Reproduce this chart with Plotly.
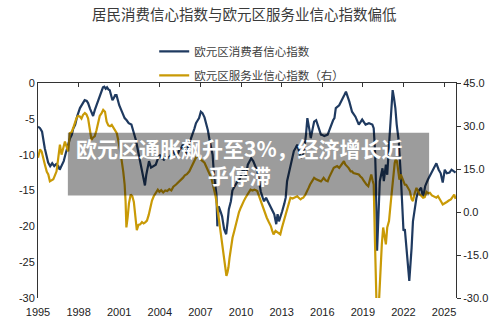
import plotly.graph_objects as go

# ---- data ----
cc_year = [1995.0, 1995.15, 1995.3, 1995.5, 1995.75, 1995.9, 1996.05, 1996.2, 1996.35, 1996.5,
           1996.6, 1996.75, 1996.9, 1997.05, 1997.2, 1997.35, 1997.5, 1997.6, 1997.75, 1997.9,
           1998.1, 1998.3, 1998.45, 1998.6, 1998.7, 1998.85, 1998.95, 1999.07, 1999.2, 1999.3,
           1999.4, 1999.55, 1999.7, 1999.8, 1999.9, 2000.0, 2000.1, 2000.2, 2000.3, 2000.4,
           2000.5, 2000.6, 2000.7, 2000.8, 2000.9, 2001.0, 2001.2, 2001.4, 2001.55, 2001.7,
           2001.9, 2002.1, 2002.25, 2002.4, 2002.55, 2002.7, 2002.82, 2002.9, 2003.0, 2003.1,
           2003.2, 2003.35, 2003.5, 2003.7, 2003.85, 2004.0, 2004.15, 2004.3, 2004.5, 2004.7,
           2004.85, 2004.95, 2005.1, 2005.2, 2005.35, 2005.45, 2005.6, 2005.7, 2005.85, 2005.93,
           2006.05, 2006.2, 2006.3, 2006.4, 2006.55, 2006.67, 2006.8, 2006.9, 2007.03, 2007.15,
           2007.3, 2007.4, 2007.55, 2007.65, 2007.8, 2007.9, 2008.0, 2008.1, 2008.18, 2008.25,
           2008.35, 2008.5, 2008.6, 2008.75, 2008.9, 2009.0, 2009.1, 2009.25, 2009.36, 2009.5,
           2009.6, 2009.75, 2009.85, 2010.0, 2010.1, 2010.25, 2010.35, 2010.5, 2010.6, 2010.75,
           2010.9, 2011.05, 2011.2, 2011.35, 2011.45, 2011.6, 2011.7, 2011.85, 2012.0, 2012.2,
           2012.35, 2012.45, 2012.6, 2012.7, 2012.8, 2012.9, 2013.04, 2013.2, 2013.3, 2013.4,
           2013.55, 2013.65, 2013.8, 2013.9, 2014.05, 2014.15, 2014.3, 2014.4, 2014.55, 2014.65,
           2014.8, 2014.9, 2015.05, 2015.15, 2015.3, 2015.4, 2015.55, 2015.7, 2015.9, 2016.05,
           2016.15, 2016.4, 2016.55, 2016.65, 2016.8, 2016.9, 2017.0, 2017.25, 2017.4, 2017.5,
           2017.65, 2017.75, 2017.9, 2018.0, 2018.2, 2018.45, 2018.7, 2018.95, 2019.2, 2019.45,
           2019.7, 2019.8, 2019.9, 2019.95, 2020.05, 2020.15, 2020.25, 2020.45, 2020.55, 2020.7,
           2020.8, 2020.95, 2021.1, 2021.2, 2021.3, 2021.4, 2021.5, 2021.65, 2021.8, 2021.9,
           2022.0, 2022.1, 2022.25, 2022.35, 2022.43, 2022.6, 2022.7, 2022.85, 2022.96, 2023.1,
           2023.3, 2023.45, 2023.6, 2023.8, 2023.95, 2024.2, 2024.43, 2024.6, 2024.75, 2024.9,
           2025.05, 2025.2, 2025.4, 2025.55, 2025.7, 2025.85]
cc_val = [-6.1, -6.3, -6.8, -9.1, -11.1, -11.6, -11.2, -11.6, -11.3, -11.6,
          -12.1, -11.6, -10.9, -9.8, -8.8, -7.8, -7.2, -6.4, -5.8, -4.6,
          -3.5, -2.9, -2.4, -2.5, -2.8, -3.6, -4.2, -4.6, -3.75, -3.2,
          -2.6, -1.8, -1.0, -0.6, -0.5, -0.8, -0.6, -0.9, -1.0, -1.9,
          -2.4, -2.1, -1.7, -1.7, -2.4, -3.1, -4.0, -4.9, -5.2, -5.6,
          -5.8, -7.0, -8.1, -9.6, -11.0, -12.5, -13.7, -14.3, -12.8, -11.8,
          -10.9, -11.8, -11.6, -11.4, -10.6, -10.0, -10.5, -10.7, -10.3, -10.4,
          -9.9, -9.5, -9.9, -10.2, -9.8, -9.3, -9.0, -8.6, -9.4, -10.0,
          -9.1, -8.4, -7.8, -7.2, -6.4, -5.6, -5.2, -4.9, -4.0, -4.2,
          -4.8, -5.4, -6.6, -7.7, -8.9, -10.0, -12.8, -14.5, -15.5, -20.0,
          -17.2, -18.0, -18.6, -20.4, -21.1, -19.5, -17.6, -16.5, -15.0, -14.5,
          -14.2, -13.7, -13.7, -12.8, -12.3, -12.3, -13.0, -11.4, -11.0, -10.5,
          -10.9, -11.5, -12.3, -13.8, -15.1, -16.0, -16.5, -16.0, -16.6, -17.4,
          -17.8, -18.3, -19.7, -18.3, -19.3, -18.8, -17.9, -16.8, -16.0, -13.7,
          -12.4, -11.4, -10.3, -9.5, -9.0, -8.6, -9.6, -10.5, -10.0, -9.5,
          -7.2, -4.9, -6.5, -7.7, -6.3, -5.4, -5.2, -6.2, -7.2, -7.3,
          -7.4, -7.2, -6.4, -5.8, -5.2, -4.9, -3.5, -3.1, -2.6, -2.1,
          -1.6, -1.2, -2.0, -2.6, -4.0, -4.7, -5.8, -5.1, -5.8, -5.6,
          -5.8, -6.3, -9.5, -12.8, -23.4, -18.0, -13.7, -11.9, -13.7, -11.4,
          -12.8, -8.1, -3.5, -1.0, -2.1, -3.5, -5.8, -8.1, -12.8, -17.4,
          -20.6, -20.4, -23.9, -25.7, -27.6, -23.0, -19.3, -17.4, -16.0, -15.1,
          -14.6, -16.0, -14.4, -13.5, -13.0, -12.1, -11.2, -12.1, -12.6, -13.9,
          -12.1, -12.6, -12.5, -12.1, -12.3, -12.5]

svc_year = [1995.0, 1995.15, 1995.27, 1995.4, 1995.51, 1995.65, 1995.76, 1995.88, 1996.0, 1996.13,
            1996.25, 1996.37, 1996.5, 1996.62, 1996.74, 1996.87, 1996.99, 1997.1, 1997.23, 1997.35,
            1997.48, 1997.6, 1997.72, 1997.84, 1997.96, 1998.09, 1998.21, 1998.33, 1998.46, 1998.58,
            1998.7, 1998.82, 1998.95, 1999.07, 1999.19, 1999.32, 1999.44, 1999.56, 1999.7, 1999.82,
            1999.95, 2000.07, 2000.2, 2000.32, 2000.45, 2000.57, 2000.7, 2000.82, 2000.95, 2001.07,
            2001.18, 2001.3, 2001.4, 2001.47, 2001.53, 2001.62, 2001.72, 2001.85, 2001.97, 2002.08,
            2002.2, 2002.3, 2002.42, 2002.55, 2002.68, 2002.8, 2002.92, 2003.05, 2003.18, 2003.3,
            2003.42, 2003.55, 2003.7, 2003.85, 2003.97, 2004.1, 2004.25, 2004.4, 2004.55, 2004.7,
            2004.85, 2005.0, 2005.2, 2005.35, 2005.5, 2005.7, 2005.85, 2006.0, 2006.18, 2006.35,
            2006.5, 2006.67, 2006.8, 2006.95, 2007.1, 2007.3, 2007.5, 2007.65, 2007.8, 2008.0,
            2008.12, 2008.25, 2008.38, 2008.5, 2008.6, 2008.68, 2008.76, 2008.84, 2008.92, 2009.0,
            2009.07, 2009.15, 2009.24, 2009.37, 2009.5, 2009.62, 2009.73, 2009.85, 2009.98, 2010.1,
            2010.2, 2010.33, 2010.46, 2010.6, 2010.7, 2010.85, 2010.98, 2011.1, 2011.2, 2011.33,
            2011.45, 2011.58, 2011.7, 2011.8, 2011.9, 2012.05, 2012.2, 2012.3, 2012.4, 2012.55,
            2012.7, 2012.9, 2013.02, 2013.15, 2013.28, 2013.4, 2013.52, 2013.65, 2013.8, 2013.9,
            2014.03, 2014.15, 2014.3, 2014.4, 2014.5, 2014.6, 2014.75, 2014.9, 2015.0, 2015.1,
            2015.25, 2015.4, 2015.55, 2015.7, 2015.9, 2016.0, 2016.1, 2016.25, 2016.4, 2016.5,
            2016.6, 2016.72, 2016.85, 2017.0, 2017.1, 2017.25, 2017.4, 2017.5, 2017.6, 2017.7,
            2017.82, 2017.94, 2018.1, 2018.2, 2018.3, 2018.45, 2018.58, 2018.7, 2018.82, 2018.94,
            2019.05, 2019.16, 2019.28, 2019.4, 2019.5, 2019.62, 2019.72, 2019.8, 2019.88, 2019.95,
            2020.05, 2020.12, 2020.2, 2020.27, 2020.4, 2020.5, 2020.6, 2020.7, 2020.8, 2020.93,
            2021.07, 2021.17, 2021.25, 2021.35, 2021.42, 2021.52, 2021.6, 2021.7, 2021.8, 2021.9,
            2021.98, 2022.1, 2022.2, 2022.35, 2022.47, 2022.6, 2022.7, 2022.83, 2022.96, 2023.1,
            2023.2, 2023.35, 2023.45, 2023.57, 2023.7, 2023.83, 2023.95, 2024.1, 2024.25, 2024.43,
            2024.55, 2024.7, 2024.8, 2024.9, 2025.05, 2025.2, 2025.35, 2025.5, 2025.62, 2025.75,
            2025.85]
svc_val = [18.9, 21.8, 21.1, 18.0, 16.5, 14.0, 13.1, 10.7, 11.0, 11.4,
           12.8, 14.2, 19.0, 23.5, 20.0, 22.5, 24.6, 23.0, 21.1, 27.5,
           27.8, 29.3, 31.0, 32.7, 33.5, 33.3, 32.6, 33.9, 34.5, 34.0,
           32.7, 29.5, 25.2, 26.0, 26.4, 28.5, 31.6, 33.5, 34.5, 35.6,
           35.0, 31.5, 30.2, 29.9, 30.4, 29.5, 28.1, 27.5, 24.6, 21.5,
           18.0, 14.0, 9.6, 3.8, -5.4, -2.0, 3.0, 6.1, 5.5, 3.5,
           -2.0, -6.3, -4.5, -4.3, -3.5, -4.0, -3.6, -3.0, -1.0, 1.5,
           4.0, 5.5, 6.5, 7.8, 7.0, 7.6, 6.8, 7.5, 7.3, 8.0,
           7.5, 8.8, 9.6, 10.2, 11.0, 11.9, 12.8, 13.2, 14.2, 16.0,
           17.5, 19.0, 19.5, 18.6, 18.0, 17.2, 15.4, 13.5, 12.0, 8.4,
           5.5, 1.5, -3.0, -7.8, -11.5, -14.7, -17.5, -19.6, -22.3, -21.0,
           -19.3, -16.0, -12.4, -9.0, -6.6, -4.0, -2.0, 0.0, 1.5, 2.5,
           3.8, 5.0, 6.1, 7.3, 7.8, 7.5, 7.8, 7.6, 7.3, 5.5,
           3.8, 2.0, 0.3, -1.0, -2.0, -3.5, -4.9, -6.5, -7.8, -6.6,
           -7.2, -7.8, -5.5, -3.2, -0.8, 1.5, 3.5, 5.0, 4.7, 5.0,
           5.3, 5.5, 4.8, 4.4, 4.8, 5.0, 6.0, 7.3, 8.5, 9.6,
           10.8, 11.9, 11.4, 11.2, 10.7, 11.2, 11.9, 11.0, 10.7, 12.0,
           13.1, 14.2, 15.4, 15.8, 16.0, 15.4, 16.4, 17.0, 17.7, 16.6,
           16.0, 15.4, 14.2, 14.2, 13.6, 13.4, 13.1, 13.1, 12.4, 11.9,
           11.0, 10.2, 9.5, 9.0, 11.4, 13.1, 11.0, 9.6, -7.8, -40.0,
           -40.0, -38.0, -30.0, -21.7, -11.3, -5.4, -9.4, -11.3, -5.4, -3.2,
           3.8, 9.0, 13.1, 17.0, 18.3, 17.7, 14.8, 11.3, 13.1, 12.0,
           10.7, 9.5, 9.5, 8.0, 7.3, 4.5, 3.8, 6.5, 8.4, 7.0,
           6.1, 5.5, 5.0, 5.2, 7.0, 6.5, 6.7, 5.8, 5.5, 5.0,
           5.5, 4.5, 3.5, 2.6, 3.2, 3.5, 4.0, 4.4, 5.2, 6.1,
           4.6]

year_ticks = [1995, 1998, 2001, 2004, 2007, 2010, 2013, 2016, 2019, 2022, 2025]
left_ticks = [0, -5, -10, -15, -20, -25, -30]
right_ticks = [45, 30, 15, 0, -15, -30]

cc_name = "欧元区消费者信心指数"
svc_name = "欧元区服务业信心指数（右）"
title_text = "居民消费信心指数与欧元区服务业信心指数偏低"
banner_text = "欧元区通胀飙升至3%，经济增长近<br>乎停滞"

NAVY = "#1f3a60"
GOLD = "#c99a06"
AX = "#333333"
TICKFONT = dict(family="Liberation Sans, Arial, sans-serif", size=11, color="#222222")
CJK = "Noto Sans CJK SC, sans-serif"

fig = go.Figure()
fig.add_trace(go.Scatter(x=cc_year, y=cc_val, mode="lines", name=cc_name,
                         line=dict(color=NAVY, width=2.2), legendgroup="a", yaxis="y"))
fig.add_trace(go.Scatter(x=svc_year, y=svc_val, mode="lines", name=svc_name,
                         line=dict(color=GOLD, width=2.2), legendgroup="b", yaxis="y2"))

xr = [1995, 2025.88]
fig.update_layout(
    width=500, height=330,
    margin=dict(l=38, r=42, t=83, b=31),
    paper_bgcolor="white", plot_bgcolor="white",
    showlegend=True,
    legend=dict(x=0.278, xanchor="left", y=1.215, yanchor="top",
                font=dict(family=CJK, size=11.5, color="#404040"),
                traceorder="grouped", tracegroupgap=5,
                bgcolor="rgba(0,0,0,0)", itemwidth=30),
    xaxis=dict(range=xr, tickvals=year_ticks, ticktext=[str(y) for y in year_ticks],
               showgrid=False, zeroline=False, showline=False, ticks="",
               tickfont=TICKFONT, ticklabelstandoff=6),
    xaxis2=dict(range=xr, overlaying="x", side="top", anchor="y",
                tickvals=year_ticks, showticklabels=False, ticks="inside", ticklen=4,
                tickcolor=AX, showline=True, linecolor=AX, linewidth=1,
                showgrid=False, zeroline=False),
    yaxis=dict(range=[-30, 0], tickvals=left_ticks, ticktext=[str(v) for v in left_ticks],
               showgrid=False, zeroline=False, showline=True, linecolor=AX, linewidth=1,
               ticks="", tickfont=TICKFONT),
    yaxis2=dict(range=[-30, 45], overlaying="y", side="right", anchor="x",
                tickvals=right_ticks, ticktext=[f"{v:.1f}" for v in right_ticks],
                showgrid=False, zeroline=False, showline=True, linecolor=AX, linewidth=1,
                ticks="outside", ticklen=4, tickcolor=AX, tickfont=TICKFONT),
    shapes=[dict(type="rect", xref="paper", yref="paper",
                 x0=(68 - 38) / 420, x1=(431 - 38) / 420,
                 y0=1 - (196 - 83) / 216, y1=1 - (133 - 83) / 216,
                 fillcolor="rgba(0,0,0,0.39)", line=dict(width=0), layer="above")],
    annotations=[
        dict(text=title_text, xref="paper", yref="paper", x=(245 - 38) / 420,
             y=1 + (83 - 13) / 216, xanchor="center", yanchor="middle", showarrow=False,
             font=dict(family=CJK, size=14.5, color="#3a3a3a")),
        dict(text="<b>" + banner_text + "</b>", xref="paper", yref="paper",
             x=(240 - 38) / 420, y=1 - (162.3 - 83) / 216, xanchor="center",
             yanchor="middle", showarrow=False, align="center",
             font=dict(family=CJK, size=21, color="white")),
    ],
)
# invisible helper trace so the top axis gets drawn
fig.add_trace(go.Scatter(x=[xr[0]], y=[-30], xaxis="x2", yaxis="y", mode="markers",
                         marker=dict(opacity=0), showlegend=False, hoverinfo="skip"))

fig.write_html("out.html")
